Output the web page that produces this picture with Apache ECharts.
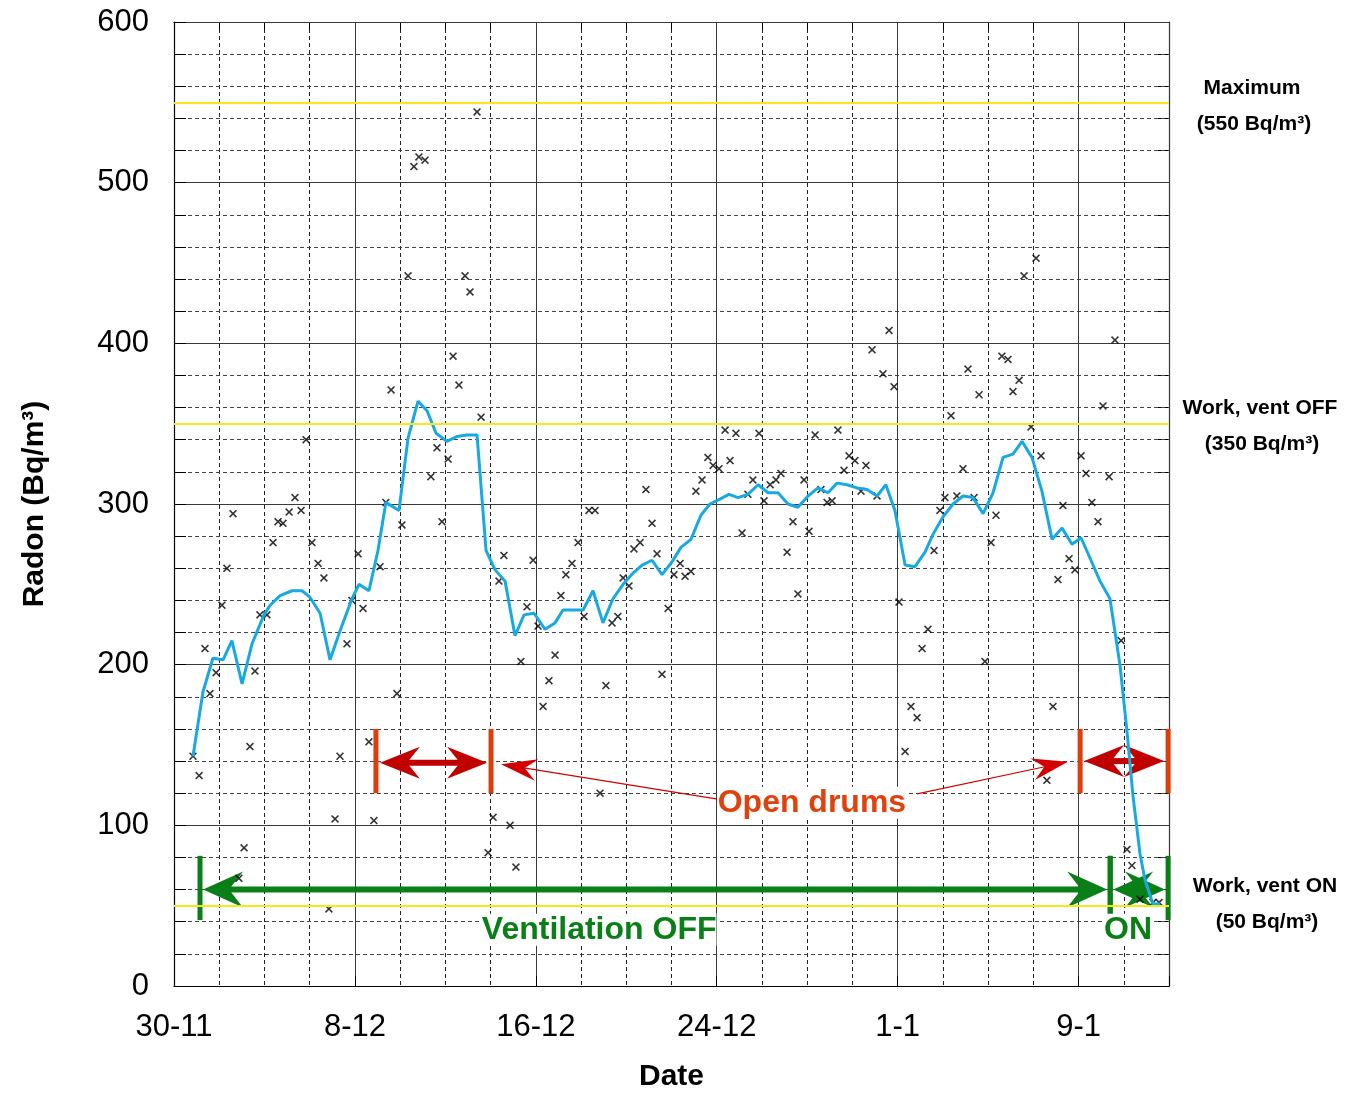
<!DOCTYPE html>
<html>
<head>
<meta charset="utf-8">
<script src="https://cdn.jsdelivr.net/npm/echarts@6.0.0/dist/echarts.min.js"></script>
<style>
html,body{margin:0;padding:0;background:#fff;}
#c{width:1346px;height:1097px;}
</style>
</head>
<body>
<div id="c"></div>
<script>
// ---- Data (x = days since 30-11) ----
const xTickDays = [0, 8, 16, 24, 32, 40];
const xTickLabels = ['30-11', '8-12', '16-12', '24-12', '1-1', '9-1'];

const sampleDays = [
  0.84,1.11,1.37,1.59,1.86,2.12,2.34,2.61,2.87,3.10,
  3.36,3.58,3.80,4.11,4.38,4.60,4.82,5.09,5.35,5.62,
  5.84,6.10,6.37,6.63,6.85,7.12,7.34,7.65,7.87,8.14,
  8.36,8.62,8.84,9.11,9.37,9.60,9.86,10.08,10.35,10.61,
  10.83,11.10,11.36,11.63,11.85,12.12,12.34,12.60,12.87,13.09,
  13.40,13.58,13.89,14.11,14.37,14.59,14.86,15.12,15.34,15.61,
  15.88,16.10,16.32,16.58,16.85,17.11,17.33,17.60,17.87,18.13,
  18.35,18.62,18.84,19.10,19.37,19.63,19.86,20.12,20.34,20.61,
  20.87,21.14,21.36,21.58,21.85,22.11,22.38,22.60,22.86,23.08,
  23.35,23.61,23.84,24.10,24.37,24.59,24.85,25.12,25.38,25.60,
  25.87,26.09,26.36,26.62,26.84,27.11,27.37,27.59,27.86,28.08,
  28.35,28.61,28.88,29.10,29.36,29.63,29.85,30.11,30.38,30.60,
  30.87,31.09,31.35,31.62,31.84,32.06,32.33,32.59,32.86,33.08,
  33.34,33.61,33.87,34.09,34.36,34.62,34.89,35.11,35.38,35.60,
  35.86,36.13,36.35,36.61,36.88,37.10,37.37,37.59,37.90,38.12,
  38.34,38.60,38.87,39.09,39.31,39.58,39.84,40.11,40.33,40.59,
  40.86,41.08,41.35,41.61,41.88,42.14,42.36,42.72,43.29,43.56
];
const sampleRadon = [
  143,131,210,182,195,237,260,294,67,86,
  149,196,231,231,276,289,288,295,304,296,
  340,276,263,254,48,104,143,213,240,269,
  235,152,103,261,301,371,182,287,442,510,
  516,514,317,335,289,328,392,374,442,432,
  544,354,83,105,252,268,100,74,202,236,
  265,224,174,190,206,243,256,263,276,230,
  296,296,120,187,226,230,254,249,272,276,
  309,288,269,194,235,256,263,255,258,308,
  315,329,324,322,346,327,344,282,306,315,
  344,302,312,315,319,270,289,244,315,283,
  343,309,301,302,346,321,330,327,308,324,
  396,305,381,408,373,239,146,174,167,210,
  222,271,296,304,355,305,322,384,304,368,
  202,276,293,392,390,370,377,442,348,453,
  330,128,174,253,299,266,259,330,319,301,
  289,361,317,402,215,85,75,54,52,52
];

const avgDays = [
  0.84,1.28,1.72,2.17,2.56,3.01,3.45,3.98,4.25,4.69,
  5.22,5.66,6.01,6.46,6.90,7.34,7.87,8.18,8.62,9.02,
  9.37,9.95,10.35,10.79,11.19,11.59,12.07,12.51,12.96,13.40,
  13.80,14.20,14.64,15.08,15.48,15.92,16.41,16.85,17.20,17.64,
  18.09,18.53,18.97,19.41,19.86,20.30,20.70,21.14,21.58,22.02,
  22.42,22.86,23.30,23.70,24.14,24.54,24.94,25.38,25.83,26.27,
  26.71,27.15,27.59,28.04,28.48,28.92,29.32,29.76,30.20,30.64,
  31.09,31.48,31.88,32.33,32.77,33.21,33.56,34.01,34.45,34.89,
  35.33,35.78,36.22,36.66,37.10,37.50,37.94,38.38,38.83,39.27,
  39.71,40.11,40.55,40.95,41.39,41.83,42.14,42.41,42.72,42.94,
  43.29,43.60
];
const avgRadon = [
  143,183,204,203,215,188,213,231,237,243,
  246,246,242,232,203,221,241,250,246,271,
  301,296,341,364,358,344,339,342,343,343,
  271,259,252,218,231,232,222,226,234,234,
  234,246,226,241,250,257,262,265,256,264,
  273,278,293,300,303,306,304,306,312,307,
  307,300,298,305,310,307,313,312,310,309,
  305,312,296,262,261,270,281,292,300,305,
  304,294,307,329,331,339,329,308,278,285,
  275,279,265,252,241,200,159,118,82,66,
  51,51
];

const limitValues = [550, 350, 50];
const limitNames = ['Maximum', 'Work, vent OFF', 'Work, vent ON'];

const openDrumSpans = [[8.93, 14.02], [40.07, 43.96]];
const openDrumArrowLevel = [139, 140];
const openDrumBarRange = [120, 160];
const openDrumText = 'Open drums';
const openDrumTextAt = [28.21, 114];
const openDrumPointerFrom = [[23.97, 116.5], [32.86, 119.6]];
const openDrumPointerTo = [[14.46, 138], [39.53, 139.5]];

const ventSpans = [[1.15, 41.4], [41.4, 43.96]];
const ventLabels = ['Ventilation OFF', 'ON'];
const ventLabelAt = [[18.8, 35], [42.19, 35]];
const ventArrowLevel = 60;
const ventBarRange = [41, 81];

// ---- Chart ----
const FONT = '"Liberation Sans", Arial, Helvetica, sans-serif';
const chart = echarts.init(document.getElementById('c'), null, {renderer: 'canvas'});

const xLabelFor = v => {
  const i = xTickDays.indexOf(v);
  return i >= 0 ? xTickLabels[i] : '';
};

const option = {
  animation: false,
  backgroundColor: '#ffffff',
  grid: {left: 174, right: 177, top: 22, bottom: 107, containLabel: false},
  xAxis: [
    {
      type: 'value', min: 0, max: 44, interval: 8, position: 'bottom', z: 1,
      axisLine: {show: true, onZero: false, lineStyle: {color: '#000', width: 1.2}},
      axisTick: {show: true, inside: true, length: 10, lineStyle: {color: '#000'}},
      axisLabel: {formatter: xLabelFor, fontSize: 31, color: '#000', fontFamily: FONT, margin: 26},
      splitLine: {show: true, lineStyle: {color: '#3a3a3a', width: 1, type: 'solid'}},
      name: 'Date', nameLocation: 'middle', nameGap: 76,
      nameTextStyle: {fontSize: 30, fontWeight: 'bold', color: '#000', fontFamily: FONT}
    },
    {
      type: 'value', min: 0, max: 44, interval: 2, position: 'top', z: 0,
      axisLine: {show: true, onZero: false, lineStyle: {color: '#000', width: 1.2}},
      axisTick: {show: true, inside: true, length: 8, lineStyle: {color: '#000'}},
      axisLabel: {show: false},
      splitLine: {show: true, lineStyle: {color: '#222', width: 1, type: [4, 3]}}
    }
  ],
  yAxis: [
    {
      type: 'value', min: 0, max: 600, interval: 100, position: 'left', z: 1,
      axisLine: {show: true, onZero: false, lineStyle: {color: '#000', width: 1.2}},
      axisTick: {show: true, inside: true, length: 12, lineStyle: {color: '#000'}},
      minorTick: {show: true, splitNumber: 5, length: 12, lineStyle: {color: '#000'}},
      axisLabel: {fontSize: 31, color: '#000', fontFamily: FONT, margin: 25},
      splitLine: {show: true, lineStyle: {color: '#3a3a3a', width: 1}},
      minorSplitLine: {show: true, lineStyle: {color: '#444', width: 1, type: [4, 3]}},
      name: 'Radon (Bq/m\u00B3)', nameLocation: 'middle', nameGap: 124, nameRotate: 90,
      nameTextStyle: {fontSize: 30, fontWeight: 'bold', color: '#000', fontFamily: FONT}
    },
    {
      type: 'value', min: 0, max: 600, interval: 100, position: 'right',
      axisLine: {show: true, onZero: false, lineStyle: {color: '#000', width: 1.2}},
      axisTick: {show: true, inside: true, length: 12, lineStyle: {color: '#000'}},
      minorTick: {show: true, splitNumber: 5, length: 12, lineStyle: {color: '#000'}},
      axisLabel: {show: false},
      splitLine: {show: false}
    }
  ],
  series: [
    {
      type: 'line', name: 'limits', data: [], silent: true,
      markLine: {
        silent: true, symbol: 'none', animation: false,
        label: {show: false},
        lineStyle: {color: '#f6e81a', width: 2.2, type: 'solid'},
        data: limitValues.map(v => ({yAxis: v}))
      },
      z: 2
    },
    {
      type: 'scatter', name: 'samples',
      data: sampleDays.map((d, i) => [d, sampleRadon[i]]),
      symbol: 'path://M0,1.4L1.4,0L5,3.6L8.6,0L10,1.4L6.4,5L10,8.6L8.6,10L5,6.4L1.4,10L0,8.6L3.6,5Z',
      symbolSize: 8,
      itemStyle: {color: '#000'},
      z: 3
    },
    {
      type: 'line', name: 'average',
      data: avgDays.map((d, i) => [d, avgRadon[i]]),
      showSymbol: false, symbol: 'none',
      lineStyle: {color: '#17a9e1', width: 3},
      z: 4
    }
  ]
};
chart.setOption(option);

// ---- Annotations positioned via the chart's own coordinate system ----
const P = (d, v) => chart.convertToPixel({xAxisIndex: 0, yAxisIndex: 0}, [d, v]);
const els = [];

function head(tip, ux, uy, L, H, N, color) {
  const nx = -uy, ny = ux;
  const bx = tip[0] - ux * L, by = tip[1] - uy * L;
  els.push({
    type: 'polygon', z: 1,
    shape: {points: [
      [tip[0], tip[1]],
      [bx + nx * H, by + ny * H],
      [tip[0] - ux * (L - N), tip[1] - uy * (L - N)],
      [bx - nx * H, by - ny * H]
    ]},
    style: {fill: color}
  });
}
function vbar(d, v0, v1, color, w) {
  const a = P(d, v1), b = P(d, v0);
  els.push({type: 'rect', z: 1, shape: {x: a[0] - w / 2, y: a[1], width: w, height: b[1] - a[1]}, style: {fill: color}});
}
function dblArrow(d0, d1, v, color, shaftW, L, H, N, gap) {
  const a = P(d0, v), b = P(d1, v);
  const l = [a[0] + gap, a[1]], r = [b[0] - gap, b[1]];
  els.push({type: 'line', z: 1, shape: {x1: l[0] + L - N, y1: l[1], x2: r[0] - L + N, y2: r[1]},
    style: {stroke: color, lineWidth: shaftW}});
  head(l, -1, 0, L, H, N, color);
  head(r, 1, 0, L, H, N, color);
}
function pointer(from, to, color) {
  const a = P(from[0], from[1]), b = P(to[0], to[1]);
  const dx = b[0] - a[0], dy = b[1] - a[1], len = Math.hypot(dx, dy);
  const ux = dx / len, uy = dy / len;
  els.push({type: 'line', z: 1, shape: {x1: a[0], y1: a[1], x2: b[0] - ux * 20, y2: b[1] - uy * 20},
    style: {stroke: color, lineWidth: 1.2}});
  head(b, ux, uy, 36, 11, 12, color);
}
function label(at, text, color, size) {
  const p = P(at[0], at[1]);
  els.push({type: 'text', z: 5, x: p[0], y: p[1],
    style: {text: text, fill: color, font: 'bold ' + size + 'px ' + FONT,
      align: 'center', verticalAlign: 'middle', backgroundColor: '#fff', padding: [0, 0, 0, 0]}});
}

const ORANGE = '#dc3e0c', DARKRED = '#c10000', GREEN = '#0b7f17';

openDrumSpans.forEach((s, i) => {
  vbar(s[0], openDrumBarRange[0], openDrumBarRange[1], ORANGE, 5);
  vbar(s[1], openDrumBarRange[0], openDrumBarRange[1], ORANGE, 5);
  dblArrow(s[0], s[1], openDrumArrowLevel[i], DARKRED, 6, 40, 16, 13, 4);
  pointer(openDrumPointerFrom[i], openDrumPointerTo[i], '#d40000');
});
label(openDrumTextAt, openDrumText, '#e0420e', 32);

ventSpans.forEach((s, i) => {
  vbar(s[0], ventBarRange[0], ventBarRange[1], GREEN, 5);
  vbar(s[1], ventBarRange[0], ventBarRange[1], GREEN, 5);
  dblArrow(s[0], s[1], ventArrowLevel, GREEN, 6, 40, 18, 14, 3);
  label(ventLabelAt[i], ventLabels[i], GREEN, 32);
});

// right-hand limit labels
const labelDx = [83, 91, 96];
const labelDy1 = [-14, -15, -19];
const labelDy2 = [22, 21, 17];
limitValues.forEach((v, i) => {
  const p = P(44, v);
  els.push({type: 'text', z: 5, x: p[0] + labelDx[i], y: p[1] + labelDy1[i],
    style: {text: limitNames[i], fill: '#000', font: 'bold 21px ' + FONT, align: 'center', verticalAlign: 'middle'}});
  els.push({type: 'text', z: 5, x: p[0] + labelDx[i] + 2, y: p[1] + labelDy2[i],
    style: {text: '(' + v + ' Bq/m\u00B3)', fill: '#000', font: 'bold 21px ' + FONT, align: 'center', verticalAlign: 'middle'}});
});

chart.setOption({graphic: {elements: els}});
</script>
</body>
</html>
